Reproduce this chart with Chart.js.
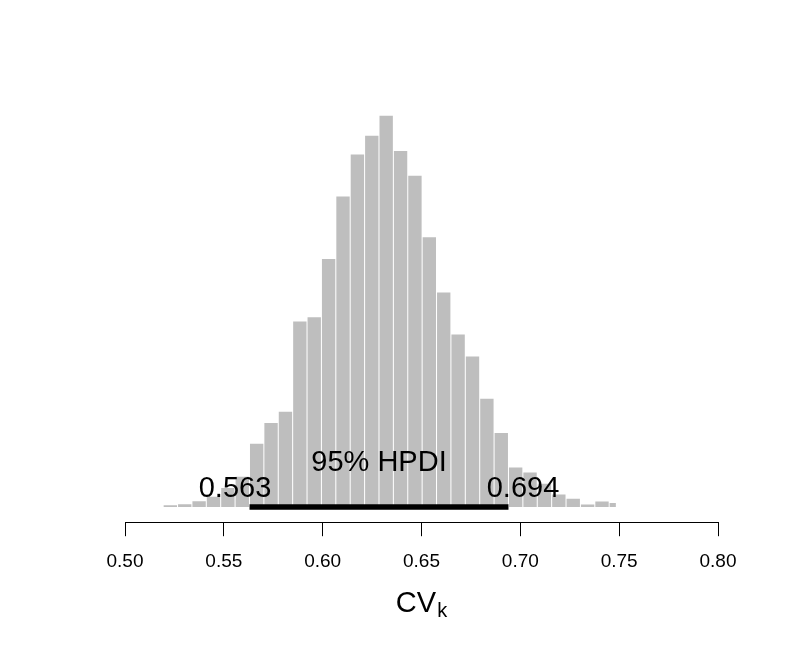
<!DOCTYPE html>
<html>
<head>
<meta charset="utf-8">
<script src="https://cdn.jsdelivr.net/npm/chart.js@4"></script>
<style>
  body { margin: 0; background: #fff; }
</style>
</head>
<body>
<canvas id="hist" width="793" height="650"></canvas>
<script>
// histogram bins (centres), density heights, HPDI and ticks
const binCenters = [0.52294, 0.53022, 0.53749, 0.54477, 0.55205, 0.55933, 0.56661, 0.57389,
  0.58117, 0.58845, 0.59573, 0.60301, 0.61029, 0.61757, 0.62485, 0.63213, 0.63941, 0.64668,
  0.65396, 0.66124, 0.66852, 0.67580, 0.68308, 0.69036, 0.69764, 0.70492, 0.71220, 0.71948,
  0.72676, 0.73404, 0.74132];
const density = [0.06, 0.09, 0.19, 0.34, 0.63, 1.00, 2.09, 2.77, 3.14, 6.12, 6.26, 8.18,
  10.24, 11.62, 12.24, 12.90, 11.74, 10.92, 8.89, 7.07, 5.69, 4.96, 3.57, 2.44, 1.30, 1.14,
  0.77, 0.41, 0.27, 0.08, 0.18];
const binWidth = 0.007278;
// the last bin is cut short at the sample maximum
const lastBin = { from: 0.74492, to: 0.74858, density: 0.13 };
const hpdi = [0.563, 0.694];
const hpdiLabel = "95% HPDI";
const xTicks = [0.50, 0.55, 0.60, 0.65, 0.70, 0.75, 0.80];

const FONT = "'Liberation Sans', Arial, Helvetica, sans-serif";
const barGrey = "#BEBEBE";
const gapShare = 0.07;
const tickStep = xTicks[1] - xTicks[0];

const annotations = {
  id: "annotations",
  afterDatasetsDraw(chart) {
    const { ctx, scales: { x, y }, chartArea } = chart;
    const y0 = y.getPixelForValue(0);
    const lo = x.getPixelForValue(hpdi[0]);
    const hi = x.getPixelForValue(hpdi[1]);
    ctx.save();
    ctx.fillStyle = "#000";
    ctx.textBaseline = "alphabetic";
    ctx.font = "29px " + FONT;
    ctx.textAlign = "center";
    ctx.fillText(hpdiLabel, (lo + hi) / 2, y0 - 36);
    ctx.textAlign = "left";
    const loTxt = hpdi[0].toFixed(3);
    const hiTxt = hpdi[1].toFixed(3);
    ctx.fillText(loTxt, lo - 0.7 * ctx.measureText(loTxt).width, y0 - 10);
    ctx.fillText(hiTxt, hi - 0.3 * ctx.measureText(hiTxt).width, y0 - 10);

    // axis title CV with subscript k
    ctx.font = "29px " + FONT;
    const wMain = ctx.measureText("CV").width;
    ctx.font = "20px " + FONT;
    const wSub = ctx.measureText("k").width;
    const left = (chartArea.left + chartArea.right) / 2 - (wMain + 1 + wSub) / 2;
    ctx.font = "29px " + FONT;
    ctx.fillText("CV", left, 612);
    ctx.font = "20px " + FONT;
    ctx.fillText("k", left + wMain + 1, 617);
    ctx.restore();
  }
};

new Chart(document.getElementById("hist"), {
  type: "bar",
  data: {
    datasets: [
      {
        type: "line",
        data: hpdi.map(v => ({ x: v, y: 0 })),
        borderColor: "#000",
        borderWidth: 5.5,
        pointRadius: 0,
        order: 0
      },
      {
        data: binCenters.map((c, i) => ({ x: c, y: density[i] })),
        backgroundColor: barGrey,
        borderWidth: 0,
        grouped: false,
        barPercentage: 1 - gapShare,
        categoryPercentage: 1,
        order: 1
      },
      {
        data: [{ x: (lastBin.from + lastBin.to) / 2, y: lastBin.density }],
        xAxisID: "x2",
        backgroundColor: barGrey,
        borderWidth: 0,
        grouped: false,
        barPercentage: (lastBin.to - lastBin.from - gapShare * binWidth) / tickStep,
        categoryPercentage: 1,
        order: 1
      }
    ]
  },
  options: {
    responsive: false,
    animation: false,
    layout: { padding: { left: 125, right: 75, top: 52, bottom: 63 } },
    plugins: { legend: { display: false }, tooltip: { enabled: false } },
    scales: {
      x: {
        type: "linear",
        min: 0.5,
        max: 0.8,
        offset: false,
        afterBuildTicks: axis => { axis.ticks = xTicks.map(v => ({ value: v })); },
        ticks: {
          color: "#000",
          padding: 14,
          maxRotation: 0,
          font: { family: FONT, size: 19 },
          callback: v => Number(v).toFixed(2)
        },
        grid: { offset: false, drawOnChartArea: false, drawTicks: true, tickLength: 14, color: "#000", lineWidth: 1 },
        border: { display: true, color: "#000", width: 1 }
      },
      x2: {
        type: "linear",
        display: false,
        min: 0.5,
        max: 0.8,
        offset: false,
        ticks: { stepSize: tickStep },
        grid: { offset: false }
      },
      y: {
        display: false,
        min: -0.5,
        max: 15
      }
    }
  },
  plugins: [annotations]
});
</script>
</body>
</html>
